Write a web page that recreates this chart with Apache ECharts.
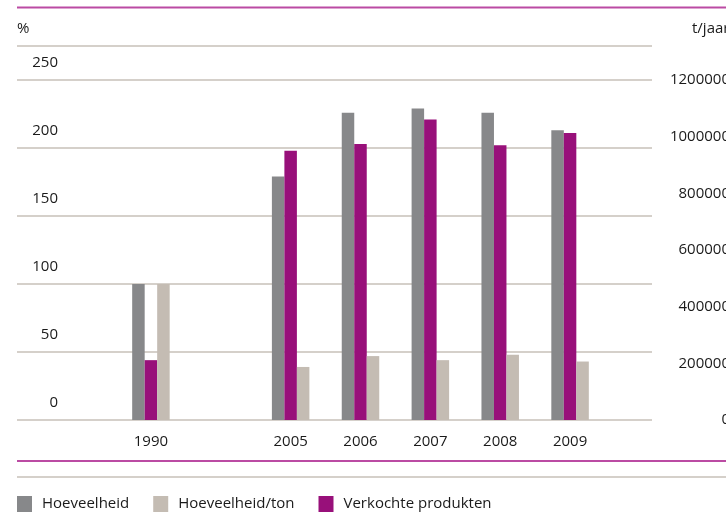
<!DOCTYPE html>
<html>
<head>
<meta charset="utf-8">
<script src="https://cdn.jsdelivr.net/npm/echarts@6/dist/echarts.min.js"></script>
<style>
  html, body { margin: 0; padding: 0; background: #fff; }
  #chart { width: 726px; height: 514px; }
</style>
</head>
<body>
<div id="chart"></div>
<script>
// jaren (lege categorie = gat tussen 1990 en 2005)
var jaren = ['1990', '', '2005', '2006', '2007', '2008', '2009'];

// waarden in % (1990 = 100)
var hoeveelheid = [100, null, 179, 226, 229, 226, 213];
var verkochteProdukten = [44, null, 198, 203, 221, 202, 211];
var hoeveelheidPerTon = [100, null, 39, 47, 44, 48, 43];

// assen
var procentMax = 250, procentStap = 50;
var tonMax = 1200000, tonStap = 200000;

var tekst = '#1a1a1a';
var font = 'Open Sans';

var myChart = echarts.init(document.getElementById('chart'));

var option = {
  animation: false,
  textStyle: { fontFamily: font },
  grid: [
    { left: 17, right: 74, top: 46, bottom: 94, outerBoundsMode: 'none', containLabel: false },
    { left: 116, right: 121, top: 46, bottom: 94, outerBoundsMode: 'none', containLabel: false }
  ],
  legend: {
    left: 17,
    top: 496,
    padding: 0,
    icon: 'rect',
    itemWidth: 15,
    itemHeight: 16,
    itemGap: 24,
    textStyle: { fontSize: 15, color: tekst, fontFamily: font, padding: [0, 0, 0, 5] },
    data: ['Hoeveelheid', 'Hoeveelheid/ton', 'Verkochte produkten']
  },
  xAxis: [
    { gridIndex: 0, type: 'category', data: ['a'], show: false },
    {
      gridIndex: 1,
      type: 'category',
      data: jaren,
      axisLine: { show: false },
      axisTick: { show: false },
      axisLabel: { fontSize: 15, color: tekst, margin: 14 }
    }
  ],
  yAxis: [
    {
      gridIndex: 0,
      type: 'value',
      position: 'left',
      min: 0,
      max: procentMax + procentStap / 2,
      interval: procentStap,
      name: '%',
      nameLocation: 'end',
      nameGap: 10,
      nameTextStyle: { fontSize: 15, color: tekst, align: 'left', fontFamily: font },
      axisLine: { show: false },
      axisTick: { show: false },
      splitLine: { lineStyle: { color: '#d5d0ca', width: 2 } },
      axisLabel: {
        inside: true,
        margin: 41,
        align: 'right',
        verticalAlign: 'bottom',
        padding: [0, 0, 10, 0],
        fontSize: 15,
        color: tekst,
        formatter: function (v) { return v > procentMax ? '' : v; }
      }
    },
    {
      gridIndex: 0,
      type: 'value',
      position: 'right',
      min: 0,
      max: tonMax * (procentMax + procentStap / 2) / procentMax,
      interval: tonStap,
      name: 't/jaar',
      nameLocation: 'end',
      nameGap: 10,
      nameTextStyle: { fontSize: 15, color: tekst, align: 'left', padding: [0, 0, 0, 40], fontFamily: font },
      axisLine: { show: false },
      axisTick: { show: false },
      splitLine: { show: false },
      axisLabel: {
        margin: 78,
        align: 'right',
        verticalAlign: 'middle',
        padding: [0, 0, 7, 0],
        fontSize: 15,
        color: tekst,
        formatter: function (v) { return v > tonMax ? '' : v; }
      }
    },
    {
      gridIndex: 1,
      type: 'value',
      min: 0,
      max: procentMax + procentStap / 2,
      show: false
    }
  ],
  series: [
    {
      name: 'Hoeveelheid',
      type: 'bar',
      xAxisIndex: 1,
      yAxisIndex: 2,
      barWidth: 12.5,
      barGap: '0%',
      itemStyle: { color: '#87888a' },
      data: hoeveelheid
    },
    {
      name: 'Verkochte produkten',
      type: 'bar',
      xAxisIndex: 1,
      yAxisIndex: 2,
      barWidth: 12.5,
      barGap: '0%',
      itemStyle: { color: '#98107a' },
      data: verkochteProdukten
    },
    {
      name: 'Hoeveelheid/ton',
      type: 'bar',
      xAxisIndex: 1,
      yAxisIndex: 2,
      barWidth: 12.5,
      barGap: '0%',
      itemStyle: { color: '#c4bcb3' },
      data: hoeveelheidPerTon
    }
  ],
  graphic: [
    { type: 'line', shape: { x1: 17, y1: 7.5, x2: 726, y2: 7.5 }, style: { stroke: '#bb4ba3', lineWidth: 2 } },
    { type: 'line', shape: { x1: 17, y1: 461, x2: 726, y2: 461 }, style: { stroke: '#bb4ba3', lineWidth: 2 } },
    { type: 'line', shape: { x1: 17, y1: 477, x2: 726, y2: 477 }, style: { stroke: '#d5d0ca', lineWidth: 2 } }
  ]
};

myChart.setOption(option);
</script>
</body>
</html>
